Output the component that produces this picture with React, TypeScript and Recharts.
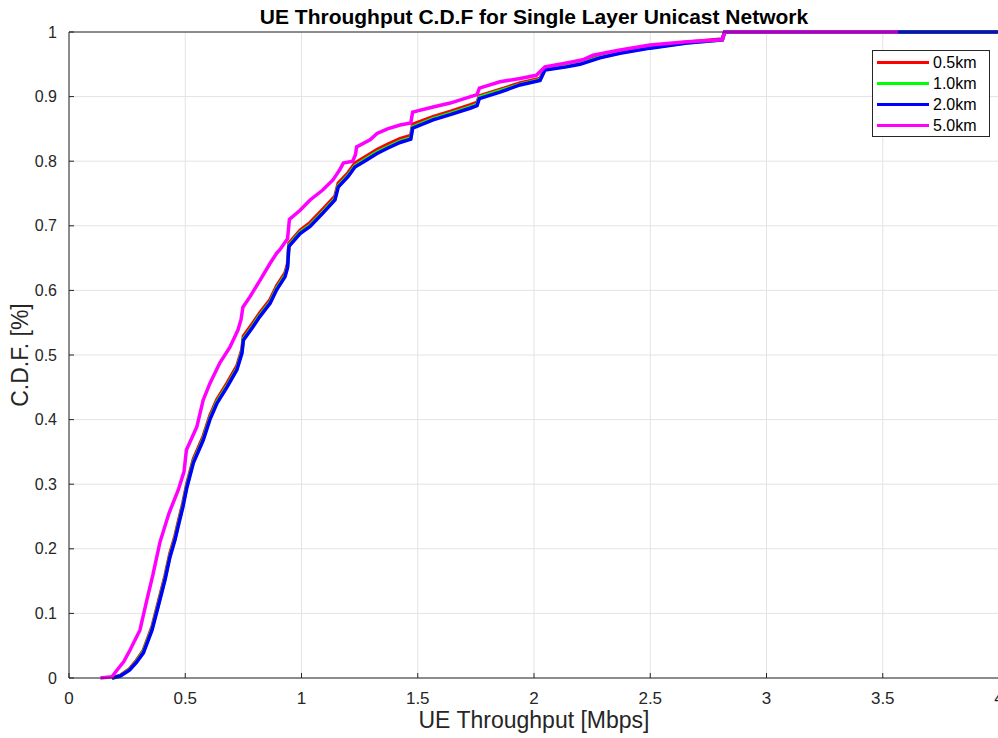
import React from 'react';
import { LineChart, Line, XAxis, YAxis, CartesianGrid, Legend } from 'recharts';

const chartTitle = 'UE Throughput C.D.F for Single Layer Unicast Network';
const xAxisTitle = 'UE Throughput [Mbps]';
const yAxisTitle = 'C.D.F. [%]';

const xTicks = [0, 0.5, 1, 1.5, 2, 2.5, 3, 3.5, 4];
const yTicks = [0, 0.1, 0.2, 0.3, 0.4, 0.5, 0.6, 0.7, 0.8, 0.9, 1];

const seriesNames = ['0.5km', '1.0km', '2.0km', '5.0km'];
const seriesColors = ['#ff0000', '#00ff00', '#0000ff', '#ff00ff'];

// throughput samples shared by the 0.5 / 1.0 / 2.0 km curves (Mbps)
const nearX = [
  0.185, 0.22, 0.26, 0.29, 0.32, 0.357, 0.383, 0.413, 0.434, 0.456, 0.469, 0.49, 0.507, 0.535, 0.577,
  0.606, 0.636, 0.679, 0.722, 0.744, 0.75, 0.79, 0.82, 0.865, 0.893, 0.929, 0.94, 0.946, 0.994, 1.037,
  1.093, 1.144, 1.158, 1.2, 1.23, 1.28, 1.325, 1.37, 1.424, 1.47, 1.478, 1.566, 1.64, 1.725, 1.755,
  1.765, 1.854, 1.94, 2.026, 2.047, 2.14, 2.198, 2.284, 2.37, 2.5, 2.657, 2.81, 2.82, 4.0,
];
const km05Y = [
  0, 0.004, 0.014, 0.027, 0.043, 0.079, 0.116, 0.158, 0.193, 0.22, 0.24, 0.271, 0.301, 0.339, 0.374,
  0.406, 0.431, 0.456, 0.483, 0.509, 0.529, 0.549, 0.565, 0.586, 0.607, 0.627, 0.641, 0.673, 0.693, 0.705,
  0.726, 0.746, 0.766, 0.782, 0.797, 0.808, 0.818, 0.826, 0.835, 0.84, 0.857, 0.869, 0.877, 0.887, 0.891,
  0.901, 0.911, 0.921, 0.928, 0.944, 0.949, 0.953, 0.962, 0.969, 0.977, 0.984, 0.989, 1.0, 1.0,
];
const km10Y = [
  0, 0.003, 0.013, 0.025, 0.041, 0.076, 0.112, 0.154, 0.189, 0.216, 0.236, 0.267, 0.297, 0.335, 0.37,
  0.402, 0.427, 0.452, 0.479, 0.505, 0.525, 0.545, 0.561, 0.582, 0.603, 0.623, 0.637, 0.67, 0.69, 0.701,
  0.722, 0.742, 0.762, 0.778, 0.793, 0.804, 0.814, 0.822, 0.831, 0.836, 0.853, 0.866, 0.874, 0.884, 0.888,
  0.899, 0.909, 0.919, 0.926, 0.942, 0.947, 0.951, 0.961, 0.968, 0.976, 0.983, 0.988, 1.0, 1.0,
];
const km20Y = [
  0, 0.003, 0.012, 0.024, 0.039, 0.074, 0.11, 0.152, 0.187, 0.214, 0.234, 0.265, 0.295, 0.333, 0.368,
  0.4, 0.425, 0.45, 0.477, 0.503, 0.523, 0.543, 0.559, 0.58, 0.601, 0.621, 0.635, 0.668, 0.688, 0.699,
  0.72, 0.74, 0.76, 0.776, 0.791, 0.802, 0.812, 0.82, 0.829, 0.834, 0.851, 0.864, 0.872, 0.882, 0.886,
  0.897, 0.907, 0.918, 0.925, 0.941, 0.946, 0.95, 0.96, 0.967, 0.975, 0.983, 0.988, 1.0, 1.0,
];

// 5.0 km curve
const km50X = [
  0.135, 0.185, 0.206, 0.235, 0.262, 0.305, 0.335, 0.361, 0.391, 0.43, 0.47, 0.495, 0.505, 0.55, 0.577,
  0.606, 0.649, 0.692, 0.727, 0.74, 0.748, 0.778, 0.822, 0.865, 0.894, 0.907, 0.94, 0.948, 0.994, 1.037,
  1.09, 1.135, 1.152, 1.163, 1.18, 1.22, 1.232, 1.237, 1.295, 1.325, 1.37, 1.424, 1.47, 1.478, 1.566,
  1.64, 1.71, 1.755, 1.765, 1.854, 1.94, 2.01, 2.047, 2.14, 2.21, 2.254, 2.37, 2.499, 2.657, 2.81, 2.82, 3.566,
];
const km50Y = [
  0, 0.002, 0.012, 0.025, 0.043, 0.074, 0.121, 0.16, 0.21, 0.255, 0.291, 0.32, 0.353, 0.389, 0.43,
  0.456, 0.488, 0.512, 0.539, 0.555, 0.574, 0.59, 0.616, 0.642, 0.658, 0.663, 0.68, 0.71, 0.724, 0.74,
  0.755, 0.771, 0.78, 0.786, 0.797, 0.8, 0.81, 0.822, 0.833, 0.843, 0.85, 0.856, 0.859, 0.876, 0.884,
  0.89, 0.898, 0.903, 0.913, 0.923, 0.928, 0.933, 0.946, 0.952, 0.957, 0.964, 0.972, 0.98, 0.985, 0.988, 1.0, 1.0,
];

const zip = (xs: number[], ys: number[]) => xs.map((x, i) => ({ x, y: ys[i] }));

const seriesData = [
  zip(nearX, km05Y),
  zip(nearX, km10Y),
  zip(nearX, km20Y),
  zip(km50X, km50Y),
];

const FONT = '"Liberation Sans", Arial, Helvetica, sans-serif';
const AXIS_COLOR = '#262626';

const XTitleLabel = (props: any) => {
  const vb = props.viewBox || { x: 69, y: 678, width: 930 };
  return (
    <text
      x={vb.x + vb.width / 2}
      y={728}
      textAnchor="middle"
      fontFamily={FONT}
      fontSize={23}
      fill={AXIS_COLOR}
    >
      {xAxisTitle}
    </text>
  );
};

// y-axis title plus the chart title (centred over the plot area)
const YTitleLabel = (props: any) => {
  const vb = props.viewBox || { x: 0, y: 32, width: 69, height: 646 };
  const cx = 20;
  const cy = vb.y + vb.height / 2;
  const plotCenterX = 69 + 930 / 2;
  return (
    <g>
      <text
        x={plotCenterX}
        y={24}
        textAnchor="middle"
        fontFamily={FONT}
        fontSize={21}
        fontWeight="bold"
        fill="#000"
      >
        {chartTitle}
      </text>
      <text
        x={cx}
        y={cy}
        transform={`rotate(-90 ${cx} ${cy})`}
        textAnchor="middle"
        dominantBaseline="central"
        fontFamily={FONT}
        fontSize={23}
        fill={AXIS_COLOR}
      >
        {yAxisTitle}
      </text>
    </g>
  );
};

const LegendBox = () => (
  <div
    style={{
      width: 118,
      height: 87,
      boxSizing: 'border-box',
      border: `1px solid ${AXIS_COLOR}`,
      background: '#fff',
      paddingTop: 1,
      fontFamily: FONT,
      fontSize: 16,
      color: '#000',
    }}
  >
    {seriesNames.map((name, i) => (
      <div key={name} style={{ display: 'flex', alignItems: 'center', height: 21 }}>
        <div style={{ marginLeft: 4, width: 52, height: 3, background: seriesColors[i] }} />
        <span style={{ marginLeft: 4, lineHeight: '21px' }}>{name}</span>
      </div>
    ))}
  </div>
);

export default function App() {
  return (
    <div
      style={{
        position: 'absolute',
        left: 0,
        top: 0,
        width: 998,
        height: 738,
        overflow: 'hidden',
        background: '#fff',
      }}
    >
      <LineChart width={1012} height={738} margin={{ top: 31, right: 13, bottom: 0, left: 0 }}>
        <CartesianGrid stroke="#e3e3e3" strokeWidth={1} />
        <XAxis
          dataKey="x"
          type="number"
          domain={[0, 4]}
          ticks={xTicks}
          interval={0}
          height={60}
          tickSize={-5}
          tickMargin={19}
          stroke={AXIS_COLOR}
          tick={{ fill: AXIS_COLOR, fontSize: 17, fontFamily: FONT }}
          label={<XTitleLabel />}
        />
        <XAxis
          xAxisId="top"
          orientation="top"
          type="number"
          domain={[0, 4]}
          ticks={xTicks}
          interval={0}
          height={1}
          tickSize={-5}
          tick={false}
          stroke={AXIS_COLOR}
        />
        <YAxis
          type="number"
          domain={[0, 1]}
          ticks={yTicks}
          interval={0}
          width={69}
          tickSize={-5}
          tickMargin={17}
          stroke={AXIS_COLOR}
          tick={{ fill: AXIS_COLOR, fontSize: 16, fontFamily: FONT }}
          label={<YTitleLabel />}
        />
        <Legend
          layout="horizontal"
          verticalAlign="middle"
          align="center"
          wrapperStyle={{ top: 50, left: 872, width: 118, height: 87 }}
          content={() => <LegendBox />}
        />
        {seriesData.map((d, i) => (
          <Line
            key={seriesNames[i]}
            data={d}
            dataKey="y"
            name={seriesNames[i]}
            type="linear"
            stroke={seriesColors[i]}
            strokeWidth={3.5}
            dot={false}
            activeDot={false}
            isAnimationActive={false}
          />
        ))}
      </LineChart>
    </div>
  );
}
